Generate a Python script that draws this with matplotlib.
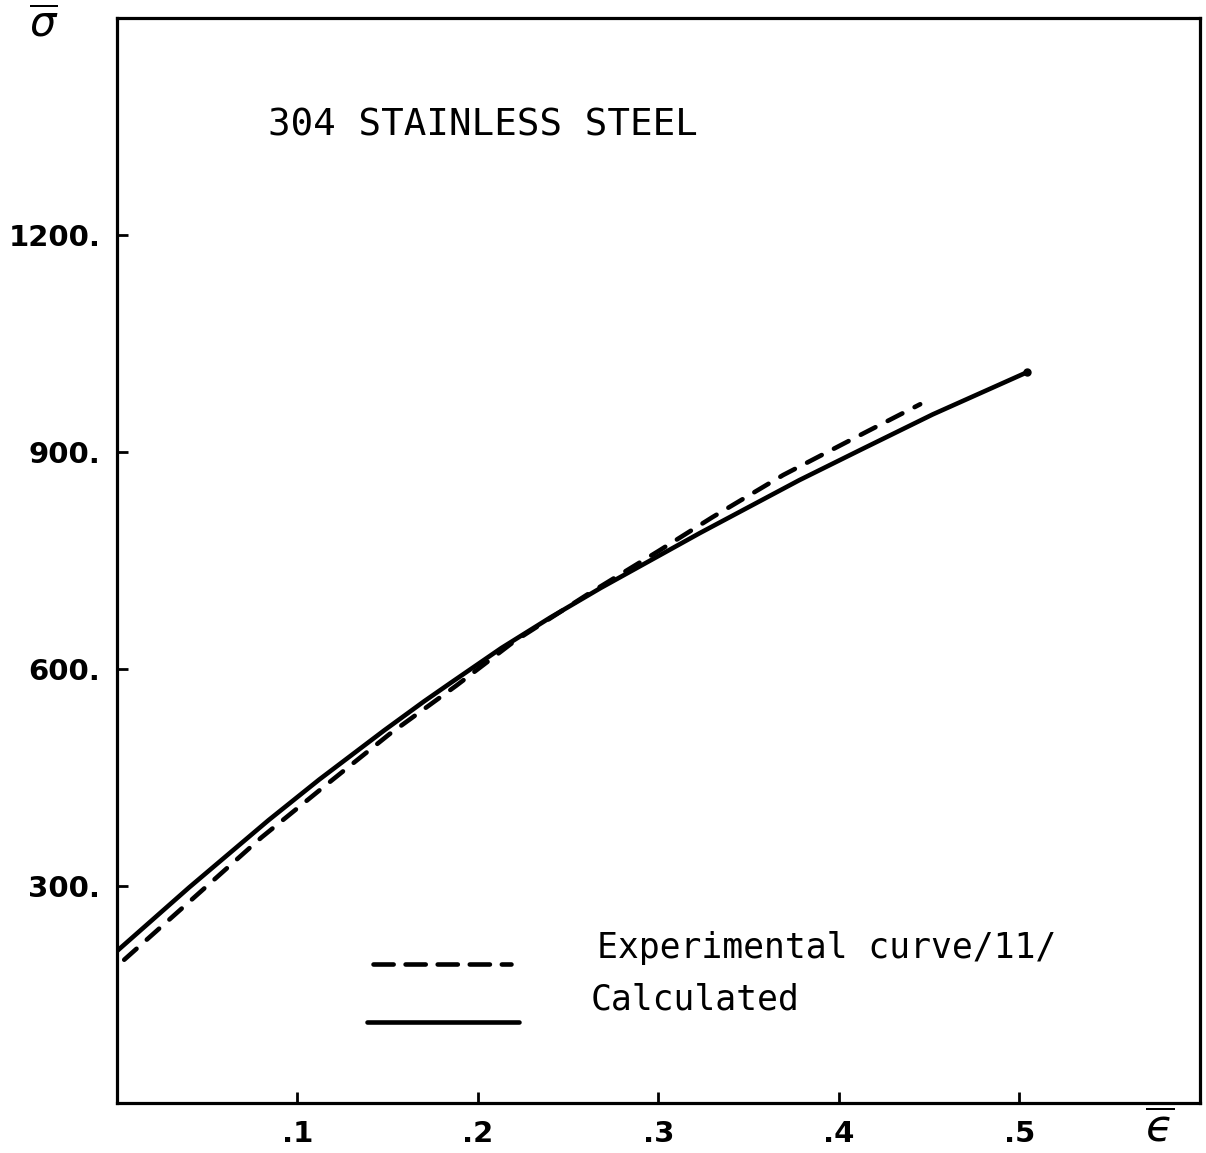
# 304 stainless steel flow curve: experimental vs calculated

import numpy as np
import matplotlib.pyplot as plt

# calculated curve (solid)
eps_calc = [0.0, 0.04, 0.084, 0.112, 0.148, 0.17, 0.185, 0.213, 0.24, 0.268, 0.323, 0.378, 0.412, 0.452, 0.504]
sig_calc = [210, 298, 391, 447, 515, 555, 581, 629, 671, 712, 788, 861, 903, 952, 1010]

# experimental curve /11/ (dashed)
eps_exp = [0.004, 0.04, 0.08, 0.117, 0.151, 0.188, 0.22, 0.26, 0.30, 0.33, 0.369, 0.413, 0.445]
sig_exp = [198, 278, 367, 442, 510, 577, 638, 702, 763, 810, 868, 925, 966]

x_ticks = [0.1, 0.2, 0.3, 0.4, 0.5]
x_ticklabels = ['.1', '.2', '.3', '.4', '.5']
y_ticks = [300, 600, 900, 1200]
y_ticklabels = ['300.', '600.', '900.', '1200.']

fig = plt.figure(figsize=(12.06, 11.53), dpi=100)
ax = fig.add_axes([0.097, 0.0434, 0.898, 0.941])

ax.plot(eps_exp, sig_exp, color='black', lw=3.3, dashes=(3.6, 3.0), dash_capstyle='round')
ax.plot(eps_calc, sig_calc, color='black', lw=3.3, solid_capstyle='round',
        solid_joinstyle='round', marker='o', markersize=5, markevery=[-1])

ax.set_xlim(0, 0.6)
ax.set_ylim(0, 1500)

ax.set_xticks(x_ticks)
ax.set_xticklabels(x_ticklabels, fontweight='bold')
ax.set_yticks(y_ticks)
ax.set_yticklabels(y_ticklabels, fontweight='bold')
ax.tick_params(direction='in', length=8, width=2, labelsize=21, pad=12)

for s in ax.spines.values():
    s.set_linewidth(2.3)
    s.set_color('black')

# title inside plot
ax.text(0.139, 0.901, '304 STAINLESS STEEL', transform=ax.transAxes,
        family='DejaVu Sans Mono', fontsize=27, va='center', ha='left')

# hand drawn legend
ax.plot([0.236, 0.364], [0.128, 0.128], transform=ax.transAxes, color='black',
        lw=3.3, dashes=(4.4, 2.6), dash_capstyle='round')
ax.plot([0.231, 0.371], [0.075, 0.075], transform=ax.transAxes, color='black',
        lw=3.3, solid_capstyle='round')
ax.text(0.443, 0.143, 'Experimental curve/11/', transform=ax.transAxes,
        family='DejaVu Sans Mono', fontsize=25, va='center', ha='left')
ax.text(0.437, 0.095, 'Calculated', transform=ax.transAxes,
        family='DejaVu Sans Mono', fontsize=25, va='center', ha='left')

# axis symbols
fig.text(0.036, 0.997, r'$\overline{\sigma}$', fontsize=30, ha='center', va='top')
fig.text(0.962, 0.002, r'$\overline{ϵ}$', fontsize=32, ha='center', va='bottom')

plt.savefig('out.png', dpi=100)
